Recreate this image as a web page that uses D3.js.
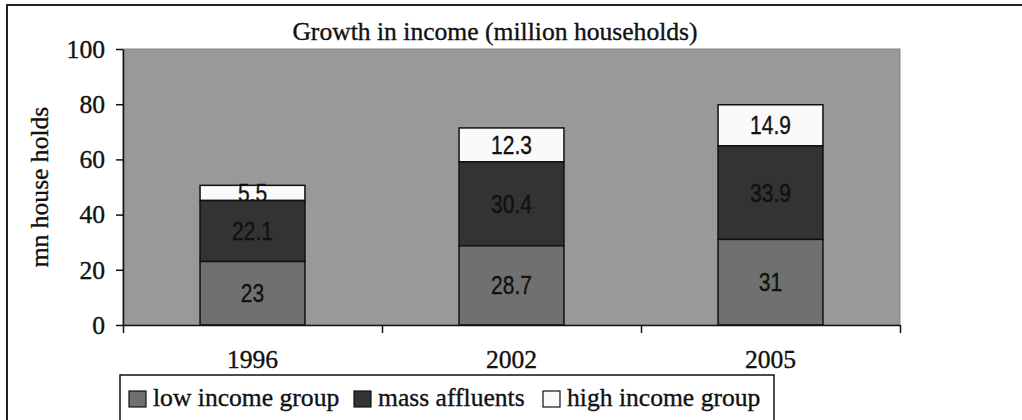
<!DOCTYPE html>
<html>
<head>
<meta charset="utf-8">
<script src="https://cdn.jsdelivr.net/npm/d3@7"></script>
<style>
  html, body { margin: 0; padding: 0; background: #fff; overflow: hidden; }
  svg { display: block; }
  text { stroke: #111; stroke-width: 0.35px; }
</style>
</head>
<body>
<svg id="chart" width="1022" height="420"></svg>
<script>
// ========= Data
const years = ["1996", "2002", "2005"];
const lowIncome = [23, 28.7, 31];
const massAffluents = [22.1, 30.4, 33.9];
const highIncome = [5.5, 12.3, 14.9];
const seriesNames = ["low income group", "mass affluents", "high income group"];
const yTicks = [0, 20, 40, 60, 80, 100];

const colors = ["#707070", "#333333", "#fafafa"];
const serif = "'Liberation Serif', 'Times New Roman', serif";
const sans = "'Liberation Sans', Arial, sans-serif";
const fs = 25.6;

const svg = d3.select("#chart");

// ========= Outer frame
svg.append("rect")
    .attr("x", 7).attr("y", 5)
    .attr("width", 1040).attr("height", 440)
    .attr("fill", "#fff")
    .attr("stroke", "#222")
    .attr("stroke-width", 2);

// ========= Scales
const x = d3.scaleBand()
    .domain(years)
    .range([123, 900])
    .paddingInner(0.595)
    .paddingOuter(0.2975);

const xEdges = d3.scaleLinear().domain([0, years.length]).range([123, 900]);

const y = d3.scaleLinear().domain([0, 100]).range([325, 49]);

// plot area
svg.append("rect")
    .attr("x", 123).attr("y", y(100))
    .attr("width", 900 - 123).attr("height", y(0) - y(100))
    .attr("fill", "#999999")
    .attr("stroke", "#858585")
    .attr("stroke-width", 1);

// title
svg.append("text")
    .attr("x", 495).attr("y", 40)
    .attr("text-anchor", "middle")
    .attr("font-family", serif)
    .attr("font-size", fs)
    .attr("fill", "#111")
    .text("Growth in income (million households)");

// ========= Stack
const rows = years.map((yr, i) => ({
    year: yr,
    [seriesNames[0]]: lowIncome[i],
    [seriesNames[1]]: massAffluents[i],
    [seriesNames[2]]: highIncome[i],
}));
const stacked = d3.stack().keys(seriesNames)(rows);

// draw top series first so lower segments cover label overflow
const layers = svg.selectAll("g.layer")
    .data(stacked.slice().reverse())
    .enter()
    .append("g")
    .attr("class", "layer");

layers.each(function (layer) {
    const g = d3.select(this);
    const fill = colors[layer.index];
    g.selectAll("rect")
        .data(layer)
        .enter()
        .append("rect")
        .attr("x", d => x(d.data.year))
        .attr("y", d => y(d[1]))
        .attr("width", x.bandwidth())
        .attr("height", d => y(d[0]) - y(d[1]))
        .attr("fill", fill)
        .attr("stroke", "#111")
        .attr("stroke-width", 1.5);

    g.selectAll("text")
        .data(layer)
        .enter()
        .append("text")
        .attr("transform", d => `translate(${x(d.data.year) + x.bandwidth() / 2},${(y(d[0]) + y(d[1])) / 2}) scale(0.84,1)`)
        .attr("dy", "0.36em")
        .attr("text-anchor", "middle")
        .attr("font-family", sans)
        .attr("font-size", 25)
        .attr("fill", "#111")
        .text(d => d[1] - d[0] === Math.round(d[1] - d[0]) ? d3.format("d")(d[1] - d[0]) : d3.format(".1f")(d[1] - d[0]));
});

// ========= Axes
const yAxis = svg.append("g")
    .attr("transform", "translate(123,0)")
    .call(d3.axisLeft(y).tickValues(yTicks).tickSize(7).tickPadding(11).tickSizeOuter(0));
yAxis.select(".domain").attr("stroke", "#111").attr("stroke-width", 1.5);
yAxis.selectAll(".tick line").attr("stroke", "#111").attr("stroke-width", 1.5);
yAxis.selectAll(".tick text")
    .attr("font-family", serif)
    .attr("font-size", fs)
    .attr("fill", "#111");

const xAxis = svg.append("g")
    .attr("transform", `translate(0,${y(0)})`)
    .call(d3.axisBottom(xEdges).tickValues(d3.range(years.length + 1)).tickSize(8).tickFormat("").tickSizeOuter(0));
xAxis.select(".domain").attr("stroke", "#111").attr("stroke-width", 1.5);
xAxis.selectAll(".tick line").attr("stroke", "#111").attr("stroke-width", 1.5);

svg.selectAll("text.cat")
    .data(years)
    .enter()
    .append("text")
    .attr("class", "cat")
    .attr("x", d => x(d) + x.bandwidth() / 2)
    .attr("y", 368)
    .attr("text-anchor", "middle")
    .attr("font-family", serif)
    .attr("font-size", fs)
    .attr("fill", "#111")
    .text(d => d);

// y label
svg.append("text")
    .attr("transform", "translate(48,187) rotate(-90)")
    .attr("text-anchor", "middle")
    .attr("font-family", serif)
    .attr("font-size", fs)
    .attr("fill", "#111")
    .text("mn house holds");

// ========= Legend
const legend = svg.append("g");
legend.append("rect")
    .attr("x", 120).attr("y", 375)
    .attr("width", 654).attr("height", 60)
    .attr("fill", "#fff")
    .attr("stroke", "#111")
    .attr("stroke-width", 1.5);

const legendX = [129, 354, 543];
const item = legend.selectAll("g.item")
    .data(seriesNames)
    .enter()
    .append("g")
    .attr("class", "item")
    .attr("transform", (d, i) => `translate(${legendX[i]},0)`);
item.append("rect")
    .attr("x", 0).attr("y", 391)
    .attr("width", 17).attr("height", 16)
    .attr("fill", (d, i) => colors[i])
    .attr("stroke", "#111")
    .attr("stroke-width", 1.2);
item.append("text")
    .attr("x", 24).attr("y", 406)
    .attr("font-family", serif)
    .attr("font-size", fs)
    .attr("fill", "#111")
    .text(d => d);
</script>
</body>
</html>
